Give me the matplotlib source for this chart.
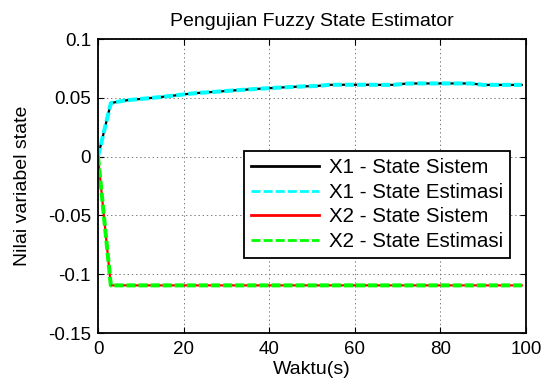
import matplotlib
matplotlib.use('Agg')
import matplotlib.pyplot as plt
import numpy as np

plt.rcParams['font.family'] = ['Liberation Sans', 'DejaVu Sans']
plt.rcParams['lines.scale_dashes'] = False

# time samples (s)
waktu = list(range(0, 100, 3))

# X1 system state and its estimate (they overlap)
x1_sistem = [0.0, 0.0455, 0.0476, 0.0487, 0.0497, 0.0508, 0.0520, 0.0533,
             0.0543, 0.0550, 0.0558, 0.0566, 0.0573, 0.0580, 0.0586, 0.0592,
             0.0597, 0.0600, 0.0610, 0.0611, 0.0611, 0.0611, 0.0610, 0.0610,
             0.0621, 0.0622, 0.0622, 0.0622, 0.0622, 0.0622, 0.0610, 0.0610,
             0.0610, 0.0610]
x1_estimasi = list(x1_sistem)

# X2 system state and its estimate
x2_sistem = [0.0] + [-0.1095] * (len(waktu) - 1)
x2_estimasi = list(x2_sistem)

labels = ['X1 - State Sistem', 'X1 - State Estimasi',
          'X2 - State Sistem', 'X2 - State Estimasi']

fig = plt.figure(figsize=(5.5, 3.84), dpi=100)
ax = fig.add_axes([98 / 550, 51 / 384, 428 / 550, 294 / 384])

dash = (6.5, 2.2)
ax.plot(waktu, x1_sistem, color='black', lw=1.6, label=labels[0])
ax.plot(waktu, x1_estimasi, color='cyan', lw=2.9, dashes=dash, label=labels[1])
ax.plot(waktu, x2_sistem, color='red', lw=1.6, label=labels[2])
ax.plot(waktu, x2_estimasi, color='#00ff00', lw=2.9, dashes=dash, label=labels[3])

ax.set_xlim(0, 100)
ax.set_ylim(-0.15, 0.1)
ax.set_xticks(np.arange(0, 101, 20))
ax.set_yticks([-0.15, -0.1, -0.05, 0, 0.05, 0.1])
ax.set_yticklabels(['-0.15', '-0.1', '-0.05', '0', '0.05', '0.1'])
ax.grid(True, color='#666666', linestyle=(0, (1, 2)), linewidth=0.6)
ax.tick_params(direction='in', length=4, width=0.8, labelsize=13.5,
               top=True, right=True)
ax.tick_params(axis='x', pad=6)
ax.tick_params(axis='y', pad=5)
for sp in ax.spines.values():
    sp.set_linewidth(1.3)

ax.set_title('Pengujian Fuzzy State Estimator', fontsize=14, pad=9)
ax.set_xlabel('Waktu(s)', fontsize=14, labelpad=2)
ax.set_ylabel('Nilai variabel state', fontsize=14, labelpad=12)

leg = ax.legend(loc='upper right', bbox_to_anchor=(0.963, 0.619),
                borderaxespad=0, fancybox=False, framealpha=1,
                edgecolor='black', fontsize=14.8, handlelength=3.3,
                handletextpad=0.5, labelspacing=0.27, borderpad=0.35)
leg.get_frame().set_linewidth(1.3)
for h in leg.get_lines():
    h.set_linewidth(2.0)

fig.savefig('out.png', dpi=100)
